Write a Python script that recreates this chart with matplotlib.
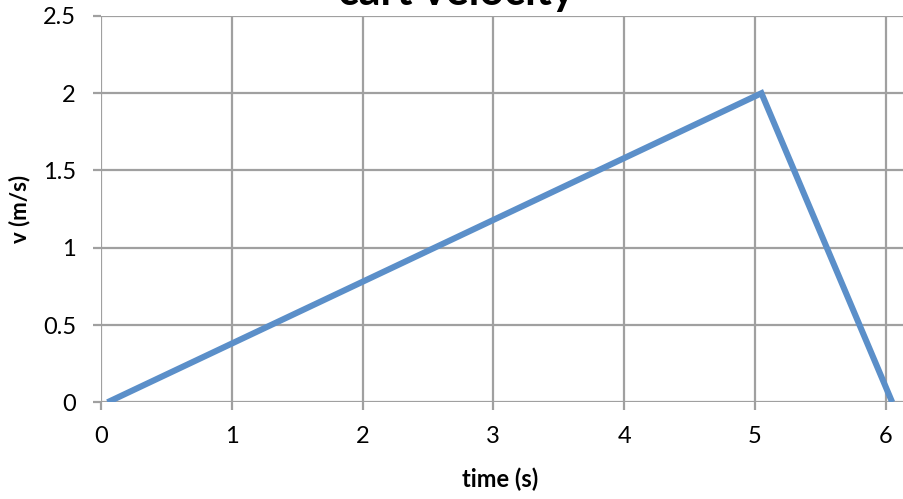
import matplotlib
matplotlib.use("Agg")
import matplotlib.pyplot as plt

time_s = [0.05, 5.05, 6.05]
velocity = [0.0, 2.0, 0.0]
x_ticks = [0, 1, 2, 3, 4, 5, 6]
y_ticks = [0, 0.5, 1, 1.5, 2, 2.5]
y_tick_labels = ["0", "0.5", "1", "1.5", "2", "2.5"]

plt.rcParams['font.family'] = ['Lato', 'DejaVu Sans']

fig = plt.figure(figsize=(9.04, 4.99), dpi=100)
ax = fig.add_axes([0.1117, 0.1938, 0.8883, 0.7742])

grid_c = '#a0a0a0'
ax.plot(time_s, velocity, color='#5b8fc9', lw=4.4, solid_joinstyle='miter', solid_capstyle='butt', zorder=3)

ax.set_xlim(0, 6.14)
ax.set_ylim(0, 2.5)
ax.set_xticks(x_ticks)
ax.set_yticks(y_ticks)
ax.set_yticklabels(y_tick_labels)
ax.grid(True, color=grid_c, lw=1.6)
ax.set_axisbelow(True)
for s in ax.spines.values():
    s.set_visible(False)
ax.tick_params(axis='both', which='both', color=grid_c, width=1.6, length=6,
               labelsize=17, labelcolor='black')
ax.tick_params(axis='y', pad=12)
ax.tick_params(axis='x', pad=11)

ax.set_xlabel('time (s)', fontsize=17, fontweight='bold')
ax.xaxis.set_label_coords(0.497, -0.170)
ax.set_ylabel('v (m/s)', fontsize=16, fontweight='bold')
ax.yaxis.set_label_coords(-0.088, 0.5)

fig.text(0.505, 1.0 - 5/499, 'cart velocity', ha='center', va='baseline',
         fontsize=31, fontweight='bold')

fig.savefig('out.png', dpi=100)
